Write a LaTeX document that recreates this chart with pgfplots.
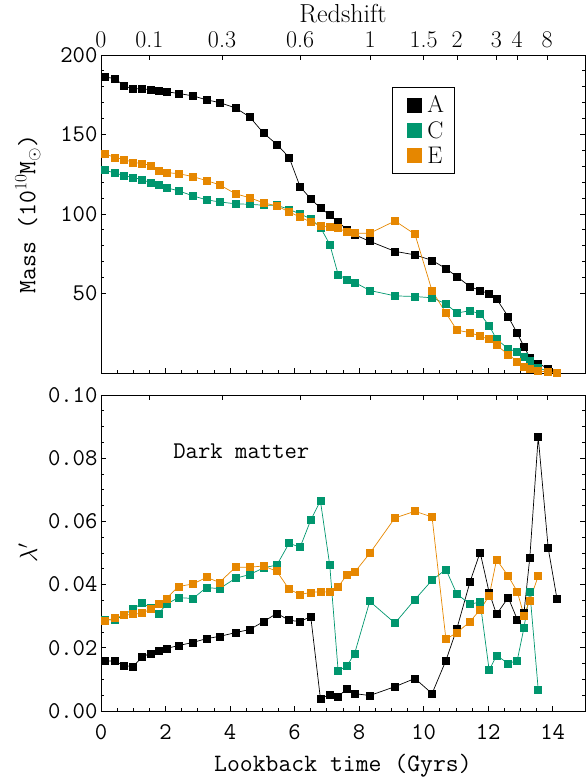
\documentclass[border=0pt]{standalone}
\usepackage{fontspec}
\usepackage{pgfplots}
\usepackage{pgfplotstable}
\pgfplotsset{compat=1.18}
\definecolor{cA}{RGB}{0,0,0}
\definecolor{cC}{RGB}{0,150,110}
\definecolor{cE}{RGB}{230,135,0}
\newcommand\tfont{\fontsize{24}{26}\selectfont\ttfamily}
\newcommand\lfont{\fontsize{25}{27}\selectfont\ttfamily}
\newcommand\rfont{\fontsize{24}{26}\selectfont\rmfamily}

\pgfplotstableread{
t M
0.12 186.0
0.43 185.3
0.72 180.4
1.00 178.8
1.28 178.8
1.53 178.1
1.79 177.5
2.03 176.9
2.40 175.8
2.85 174.3
3.27 171.8
3.67 170.1
4.17 166.7
4.61 161.0
5.04 150.8
5.45 143.8
5.83 135.6
6.17 117.2
6.50 109.5
6.80 103.8
7.09 99.4
7.35 94.9
7.63 90.2
7.86 87.0
8.33 82.8
9.11 76.5
9.73 74.3
10.26 70.8
10.69 65.7
11.03 60.6
11.44 54.3
11.75 51.9
12.03 49.8
12.26 46.6
12.62 35.4
12.90 25.0
13.11 16.5
13.29 9.8
13.55 6.0
13.86 2.8
}\massA
\pgfplotstableread{
t M
0.12 127.5
0.43 125.8
0.72 124.1
1.00 122.9
1.28 121.6
1.53 119.7
1.79 118.4
2.03 116.5
2.40 114.6
2.85 111.4
3.27 108.9
3.67 107.6
4.17 106.4
4.61 106.1
5.04 105.5
5.45 105.5
5.83 102.9
6.17 100.0
6.50 97.0
6.80 91.5
7.09 80.9
7.35 61.9
7.63 58.7
7.86 57.0
8.33 51.9
9.11 48.5
9.73 48.1
10.26 47.3
10.69 43.5
11.03 37.7
11.44 39.2
11.75 37.1
12.03 29.7
12.26 21.2
12.62 15.3
12.90 13.2
13.11 9.9
13.29 7.6
13.55 3.5
13.86 0.8
}\massC
\pgfplotstableread{
t M
0.12 137.7
0.43 135.6
0.72 134.3
1.00 132.4
1.28 131.8
1.53 130.5
1.79 127.3
2.03 126.0
2.40 125.4
2.85 123.5
3.27 121.0
3.67 118.4
4.17 112.7
4.61 110.2
5.04 107.0
5.45 105.1
5.83 101.3
6.17 98.1
6.50 94.9
6.80 92.8
7.09 91.7
7.35 91.1
7.63 88.6
7.86 87.9
8.33 87.9
9.11 95.6
9.73 87.3
10.26 51.7
10.69 37.7
11.03 26.9
11.44 25.4
11.75 23.1
12.03 21.2
12.26 17.4
12.62 11.7
12.90 7.3
13.11 4.0
13.29 2.6
13.55 1.3
13.86 0.6
14.13 0.3
}\massE
\pgfplotstableread{
t L
0.12 0.0158
0.43 0.0158
0.72 0.0143
1.00 0.0141
1.28 0.0172
1.53 0.0182
1.79 0.0191
2.03 0.0198
2.40 0.0207
2.85 0.0217
3.27 0.0229
3.67 0.0236
4.17 0.0248
4.61 0.0258
5.04 0.0283
5.45 0.0309
5.83 0.0287
6.17 0.0283
6.50 0.0299
6.80 0.0039
7.09 0.0052
7.35 0.0046
7.63 0.0071
7.86 0.0055
8.33 0.0049
9.11 0.0077
9.73 0.0103
10.26 0.0055
10.69 0.0160
11.03 0.0261
11.44 0.0410
11.75 0.0502
12.03 0.0375
12.26 0.0306
12.62 0.0359
12.90 0.0290
13.11 0.0312
13.29 0.0486
13.55 0.0867
13.86 0.0515
14.13 0.0356
}\spinA
\pgfplotstableread{
t L
0.12 0.0290
0.43 0.0287
0.72 0.0305
1.00 0.0323
1.28 0.0342
1.53 0.0326
1.79 0.0309
2.03 0.0338
2.40 0.0359
2.85 0.0356
3.27 0.0391
3.67 0.0387
4.17 0.0420
4.61 0.0432
5.04 0.0453
5.45 0.0462
5.83 0.0531
6.17 0.0518
6.50 0.0604
6.80 0.0665
7.09 0.0461
7.35 0.0126
7.63 0.0144
7.86 0.0182
8.33 0.0347
9.11 0.0278
9.73 0.0353
10.26 0.0414
10.69 0.0448
11.03 0.0370
11.44 0.0338
11.75 0.0345
12.03 0.0129
12.26 0.0176
12.62 0.0150
12.90 0.0160
13.11 0.0264
13.29 0.0378
13.55 0.0068
}\spinC
\pgfplotstableread{
t L
0.12 0.0285
0.43 0.0294
0.72 0.0303
1.00 0.0306
1.28 0.0310
1.53 0.0322
1.79 0.0338
2.03 0.0356
2.40 0.0394
2.85 0.0402
3.27 0.0423
3.67 0.0407
4.17 0.0455
4.61 0.0455
5.04 0.0459
5.45 0.0442
5.83 0.0385
6.17 0.0369
6.50 0.0375
6.80 0.0378
7.09 0.0376
7.35 0.0393
7.63 0.0432
7.86 0.0439
8.33 0.0499
9.11 0.0611
9.73 0.0632
10.26 0.0614
10.69 0.0227
11.03 0.0248
11.44 0.0283
11.75 0.0321
12.03 0.0364
12.26 0.0479
12.62 0.0427
12.90 0.0378
13.11 0.0302
13.29 0.0350
13.55 0.0427
}\spinE

\pgfplotsset{
 base/.style={scale only axis, width=484pt, xmin=0, xmax=15,
   axis line style={line width=0.8pt, black},
   every tick/.style={line width=0.8pt, black},
   tick align=inside, major tick length=5pt, minor tick length=3pt,
   tick label style={font=\tfont},
   /pgf/number format/assume math mode=true},
 ser/.style={line width=0.7pt, mark=square*, mark size=3.5pt, mark options={solid}},
 zticks/.style={xtick={0,1.50,3.75,6.17,8.34,10.0,11.04,12.25,12.90,13.83}, minor x tick num=0},
}

\begin{document}
\begin{tikzpicture}
\useasboundingbox (-101pt,-68pt) rectangle (485pt,711pt);
% ---------- bottom panel ----------
\begin{axis}[base, at={(0,0)}, anchor=south west, height=316pt,
  ymin=0, ymax=0.1, ytick={0,0.02,0.04,0.06,0.08,0.1}, minor y tick num=3,
  yticklabel style={/pgf/number format/.cd, fixed, fixed zerofill, precision=2},
  xtick={0,2,4,6,8,10,12,14}, minor x tick num=3, xtick pos=left,
  xticklabel style={yshift=-10pt},
  xlabel={Lookback time (Gyrs)}, xlabel style={font=\lfont, at={(axis description cs:0.5,-0.172)}, anchor=center},
  ylabel={$\lambda'$}, ylabel style={font=\lfont, at={(axis description cs:-0.151,0.5)}, anchor=center, rotate=0}]
\addplot[ser, color=cA] table[x=t,y=L] {\spinA};
\addplot[ser, color=cC] table[x=t,y=L] {\spinC};
\addplot[ser, color=cE] table[x=t,y=L] {\spinE};
\node[font=\tfont] at (axis cs:4.35,0.0823) {Dark matter};
\end{axis}
\begin{axis}[base, zticks, at={(0,0)}, anchor=south west, height=316pt,
  ymin=0, ymax=0.1, axis x line*=top, axis y line=none, xticklabels={}]
\end{axis}
% ---------- top panel ----------
\begin{axis}[base, at={(0,338pt)}, anchor=south west, height=318pt,
  ymin=0, ymax=200, ytick={50,100,150,200}, minor y tick num=4,
  xtick={0,2,4,6,8,10,12,14}, minor x tick num=3, xtick pos=left, xticklabels={},
  ylabel={Mass (10$^{10}$M$_\odot$)}, ylabel style={font=\lfont, at={(axis description cs:-0.151,0.5)}, anchor=center},
  legend style={at={(0.601,0.899)}, anchor=north west, draw=black, line width=0.8pt, fill=white,
    font=\rfont, inner xsep=6pt, inner ysep=5pt, row sep=0pt,
    nodes={inner xsep=4pt, inner ysep=3.5pt}},
  legend image code/.code={\path[draw=none,fill=none] (0pt,0pt) -- (25pt,0pt); \draw[#1, mark size=7pt] plot coordinates {(16pt,0pt)};},
  legend cell align=left]
\addplot[ser, color=cA] table[x=t,y=M] {\massA};
\addplot[ser, color=cC] table[x=t,y=M] {\massC};
\addplot[ser, color=cE] table[x=t,y=M] {\massE};
\legend{A,C,E}
\end{axis}
\begin{axis}[base, zticks, at={(0,338pt)}, anchor=south west, height=318pt,
  ymin=0, ymax=200, axis x line*=top, axis y line=none,
  xticklabels={0,0.1,0.3,0.6,1,1.5,2,3,4,8}, xticklabel style={font=\rfont, yshift=4pt},
  xlabel={Redshift}, xlabel style={font=\fontsize{26}{28}\selectfont\rmfamily, at={(axis description cs:0.5,1.129)}, anchor=center}]
\end{axis}
\end{tikzpicture}
\end{document}
